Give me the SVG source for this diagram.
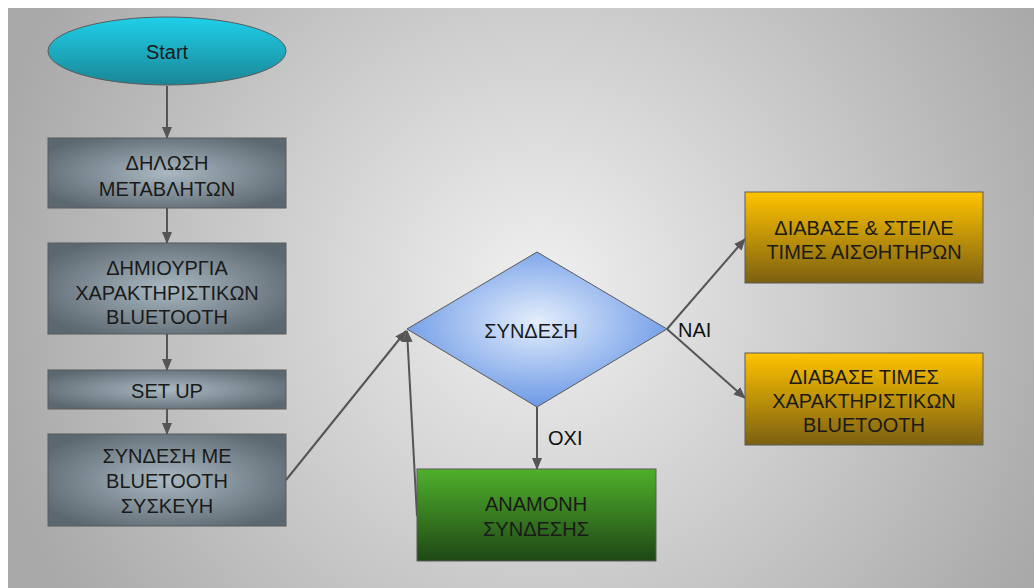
<svg xmlns="http://www.w3.org/2000/svg" width="1034" height="588" viewBox="0 0 1034 588">
  <defs>
    <radialGradient id="bg" cx="540" cy="290" r="560" gradientUnits="userSpaceOnUse">
      <stop offset="0" stop-color="#f0f0f0"/>
      <stop offset="1" stop-color="#a9a9a9"/>
    </radialGradient>
    <radialGradient id="steel" cx="0.5" cy="0.5" r="0.6">
      <stop offset="0" stop-color="#a9b8c2"/>
      <stop offset="1" stop-color="#5c6870"/>
    </radialGradient>
    <linearGradient id="cyan" x1="0" y1="0" x2="0" y2="1">
      <stop offset="0" stop-color="#1fd0ea"/>
      <stop offset="1" stop-color="#1a8696"/>
    </linearGradient>
    <radialGradient id="blue" cx="0.5" cy="0.45" r="0.55">
      <stop offset="0" stop-color="#e4eefc"/>
      <stop offset="1" stop-color="#6c99e6"/>
    </radialGradient>
    <linearGradient id="green" x1="0" y1="0" x2="0" y2="1">
      <stop offset="0" stop-color="#4fb02b"/>
      <stop offset="1" stop-color="#1f4716"/>
    </linearGradient>
    <linearGradient id="amber" x1="0" y1="0" x2="0" y2="1">
      <stop offset="0" stop-color="#ffc300"/>
      <stop offset="1" stop-color="#7c6012"/>
    </linearGradient>
    <marker id="arrow" viewBox="0 0 12 10" refX="11" refY="5" markerWidth="12" markerHeight="10" markerUnits="userSpaceOnUse" orient="auto">
      <path d="M0,0 L12,5 L0,10 Z" fill="#555"/>
    </marker>
    <style>
      text { font-family: "Liberation Sans", Arial, sans-serif; font-size: 20px; fill: #1a1a1a; text-anchor: middle; }
      .lbl { text-anchor: start; fill: #111; }
      .shape { stroke: #5a5a5a; stroke-width: 1; }
      .conn { stroke: #555; stroke-width: 2; fill: none; marker-end: url(#arrow); }
    </style>
  </defs>

  <!-- backdrop -->
  <rect x="0" y="0" width="1034" height="588" fill="#ffffff"/>
  <rect x="8" y="8" width="1026" height="580" fill="url(#bg)"/>

  <!-- connectors -->
  <g id="connectors">
    <line class="conn" x1="167" y1="86" x2="167" y2="138"/>
    <line class="conn" x1="167" y1="208" x2="167" y2="243"/>
    <line class="conn" x1="167" y1="334" x2="167" y2="370"/>
    <line class="conn" x1="167" y1="409" x2="167" y2="434"/>
    <line class="conn" x1="286" y1="480" x2="406" y2="331"/>
    <line class="conn" x1="417" y1="516" x2="407" y2="331"/>
    <line class="conn" x1="537" y1="407" x2="537" y2="469"/>
    <line class="conn" x1="667" y1="329" x2="745" y2="239"/>
    <line class="conn" x1="667" y1="329" x2="745" y2="398"/>
    <text class="lbl" x="548" y="445">OXI</text>
    <text class="lbl" x="678" y="337">NAI</text>
  </g>

  <g id="start">
    <ellipse class="shape" cx="167" cy="51" rx="119" ry="34" fill="url(#cyan)"/>
    <text x="167" y="59">Start</text>
  </g>

  <g id="declare-vars">
    <rect class="shape" x="48" y="138" width="238" height="70" fill="url(#steel)"/>
    <text x="167" y="170">ΔΗΛΩΣΗ</text>
    <text x="167" y="196">ΜΕΤΑΒΛΗΤΩΝ</text>
  </g>

  <g id="create-characteristics">
    <rect class="shape" x="48" y="243" width="238" height="91" fill="url(#steel)"/>
    <text x="167" y="275">ΔΗΜΙΟΥΡΓΙΑ</text>
    <text x="167" y="300">ΧΑΡΑΚΤΗΡΙΣΤΙΚΩΝ</text>
    <text x="167" y="324">BLUETOOTH</text>
  </g>

  <g id="setup">
    <rect class="shape" x="48" y="370" width="238" height="39" fill="url(#steel)"/>
    <text x="167" y="398">SET UP</text>
  </g>

  <g id="connect-device">
    <rect class="shape" x="48" y="434" width="238" height="92" fill="url(#steel)"/>
    <text x="167" y="463">ΣΥΝΔΕΣΗ ΜΕ</text>
    <text x="167" y="488">BLUETOOTH</text>
    <text x="167" y="513">ΣΥΣΚΕΥΗ</text>
  </g>

  <g id="connection-check">
    <polygon class="shape" points="537,252 667,329 537,407 407,329" fill="url(#blue)"/>
    <text x="531" y="338">ΣΥΝΔΕΣΗ</text>
  </g>

  <g id="wait-connection">
    <rect class="shape" x="417" y="469" width="239" height="92" fill="url(#green)"/>
    <text x="536" y="511">ΑΝΑΜΟΝΗ</text>
    <text x="536" y="536">ΣΥΝΔΕΣΗΣ</text>
  </g>

  <g id="read-send-sensors">
    <rect class="shape" x="745" y="192" width="238" height="91" fill="url(#amber)"/>
    <text x="864" y="235">ΔΙΑΒΑΣΕ &amp; ΣΤΕΙΛΕ</text>
    <text x="864" y="259">ΤΙΜΕΣ ΑΙΣΘΗΤΗΡΩΝ</text>
  </g>

  <g id="read-characteristics">
    <rect class="shape" x="745" y="353" width="238" height="92" fill="url(#amber)"/>
    <text x="864" y="384">ΔΙΑΒΑΣΕ ΤΙΜΕΣ</text>
    <text x="864" y="408">ΧΑΡΑΚΤΗΡΙΣΤΙΚΩΝ</text>
    <text x="864" y="432">BLUETOOTH</text>
  </g>
</svg>
